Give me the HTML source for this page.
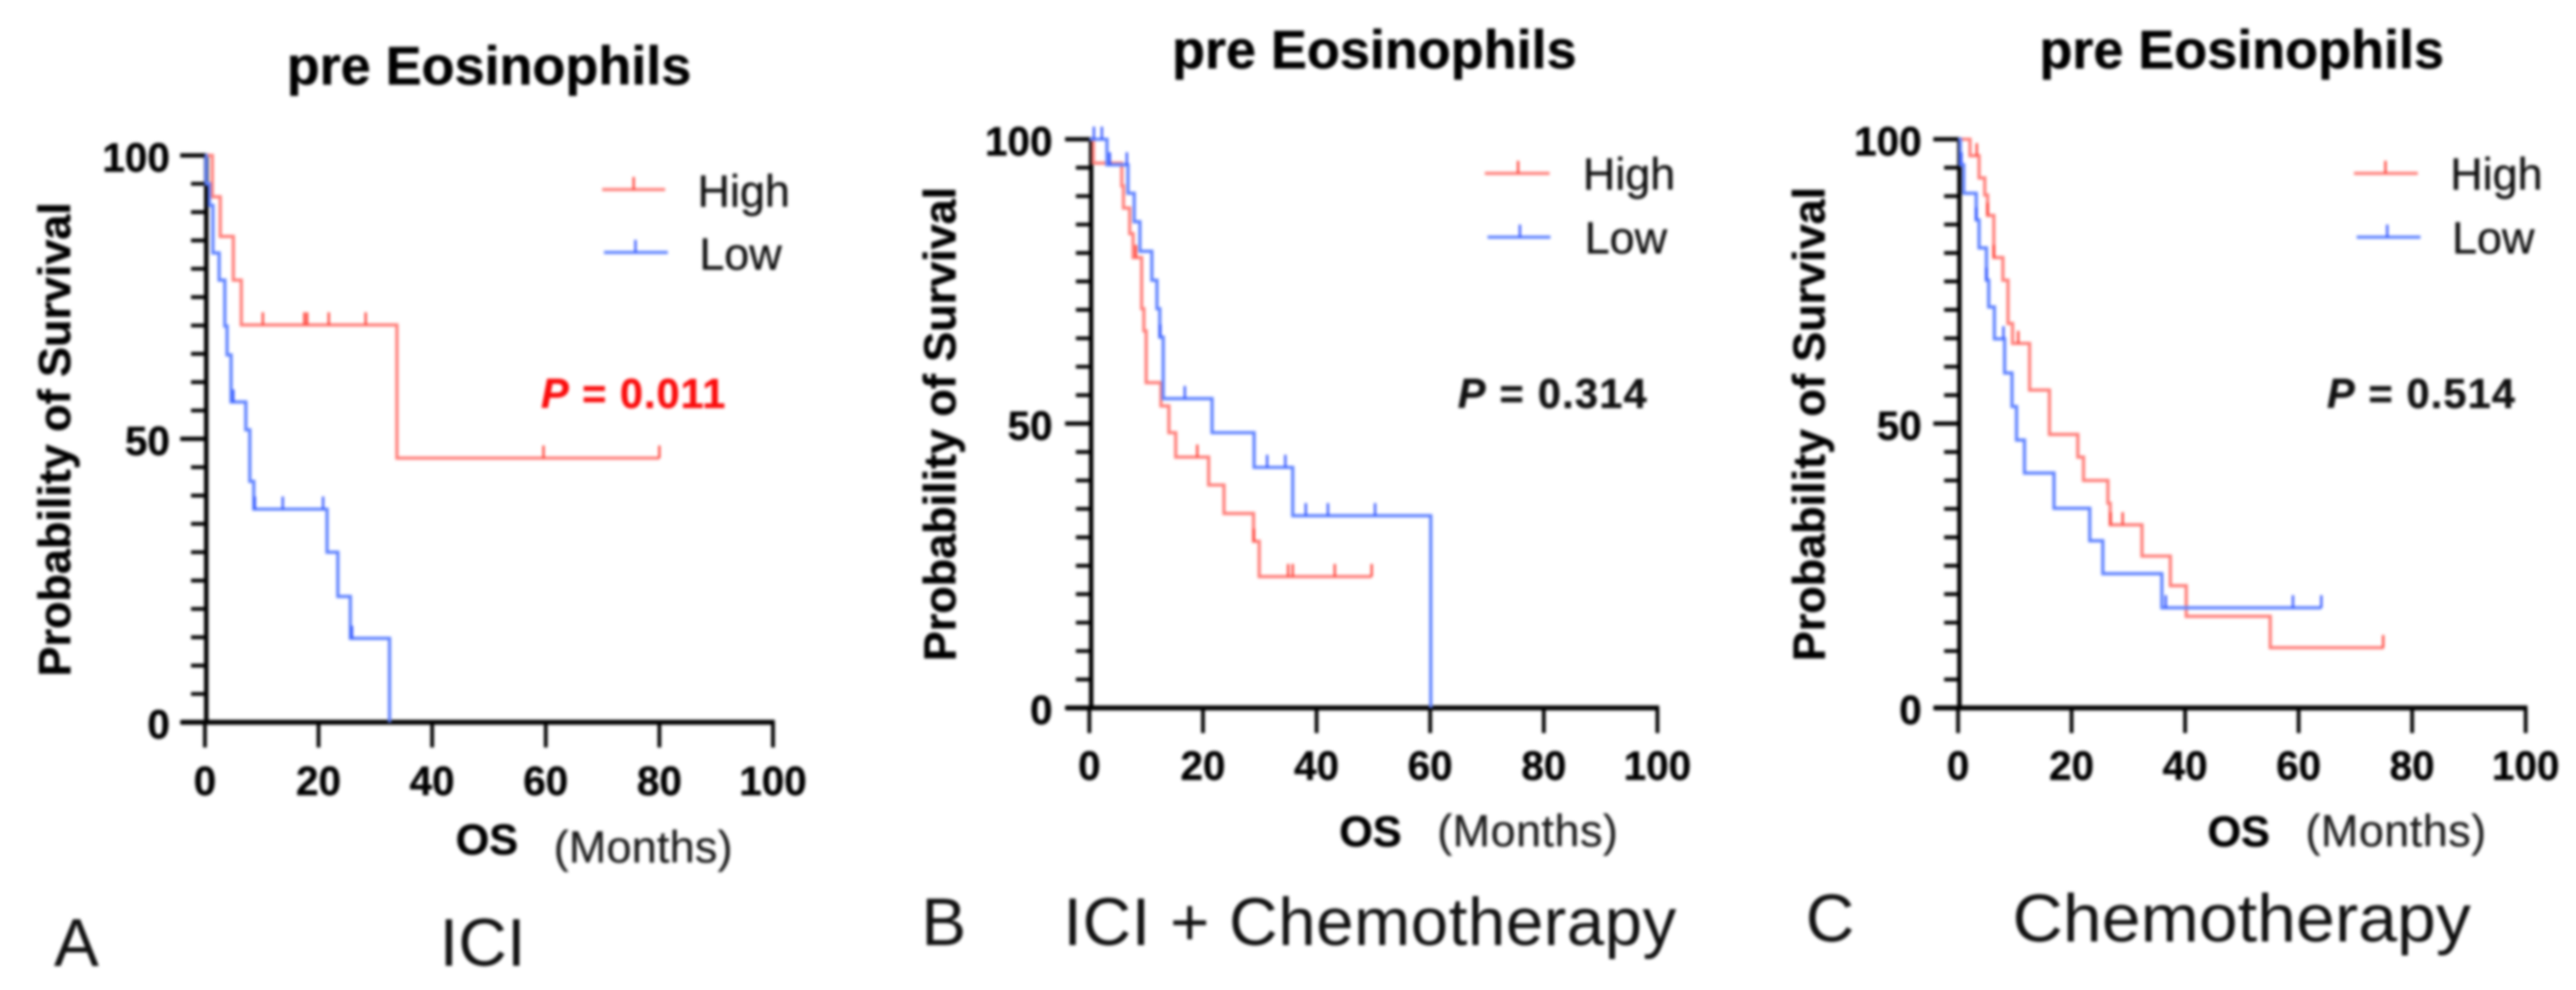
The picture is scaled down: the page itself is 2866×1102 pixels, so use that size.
<!DOCTYPE html>
<html lang="en">
<head>
<meta charset="utf-8">
<title>pre Eosinophils overall survival curves</title>
<style>
html,body{margin:0;padding:0;background:#fff;}
body{width:2866px;height:1102px;overflow:hidden;}
#figure{display:block;width:2866px;height:1102px;filter:blur(1.6px);font-family:"Liberation Sans",Arial,sans-serif;}
.title{font-size:60px;font-weight:bold;fill:#000;stroke:#000;stroke-width:.5px;}
.ytitle{font-size:50px;font-weight:bold;fill:#000;text-anchor:middle;stroke:#000;stroke-width:.5px;}
.legend{font-size:50px;fill:#111;stroke:#111;stroke-width:.4px;}
.pval{font-size:46px;font-weight:bold;stroke-width:.5px;}
.os{font-size:48px;font-weight:bold;fill:#000;stroke:#000;stroke-width:.5px;}
.months{font-size:50px;fill:#1c1c1c;stroke:#1c1c1c;stroke-width:.3px;}
.panel{font-size:75px;fill:#111;}
.tick{font-size:45px;font-weight:bold;fill:#000;stroke:#000;stroke-width:.4px;}
</style>
</head>
<body>
<svg id="figure" xmlns="http://www.w3.org/2000/svg" width="2866" height="1102" viewBox="0 0 2866 1102">
  <rect width="2866" height="1102" fill="#ffffff"/>

  <!-- Panel A text -->
  <g>
    <text class="title" x="319" y="94">pre Eosinophils</text>
    <text class="ytitle" transform="translate(78 489) rotate(-90)">Probability of Survival</text>
    <text class="legend" x="776" y="230">High</text>
    <text class="legend" x="778" y="300">Low</text>
    <text class="pval" x="602" y="454" fill="#fa0d0d" stroke="#fa0d0d" textLength="205" lengthAdjust="spacing"><tspan font-style="italic">P</tspan> = 0.011</text>
    <text class="os" x="507" y="951">OS</text>
    <text class="months" x="616" y="960" textLength="199" lengthAdjust="spacing">(Months)</text>
    <text class="panel" x="60" y="1075">A</text>
    <text class="panel" x="489" y="1075">ICI</text>
  </g>

  <!-- Panel B text -->
  <g>
    <text class="title" x="1304" y="76">pre Eosinophils</text>
    <text class="ytitle" transform="translate(1063 472) rotate(-90)">Probability of Survival</text>
    <text class="legend" x="1761" y="211">High</text>
    <text class="legend" x="1763" y="282">Low</text>
    <text class="pval" x="1622" y="454" fill="#111" stroke="#111" textLength="210" lengthAdjust="spacing"><tspan font-style="italic">P</tspan> = 0.314</text>
    <text class="os" x="1490" y="942">OS</text>
    <text class="months" x="1599" y="942" textLength="201" lengthAdjust="spacing">(Months)</text>
    <text class="panel" x="1025" y="1052">B</text>
    <text class="panel" x="1183" y="1052" textLength="682" lengthAdjust="spacing">ICI + Chemotherapy</text>
  </g>

  <!-- Panel C text -->
  <g>
    <text class="title" x="2269" y="76">pre Eosinophils</text>
    <text class="ytitle" transform="translate(2030 472) rotate(-90)">Probability of Survival</text>
    <text class="legend" x="2726" y="211">High</text>
    <text class="legend" x="2728" y="282">Low</text>
    <text class="pval" x="2589" y="454" fill="#111" stroke="#111" textLength="209" lengthAdjust="spacing"><tspan font-style="italic">P</tspan> = 0.514</text>
    <text class="os" x="2456" y="942">OS</text>
    <text class="months" x="2565" y="942" textLength="201" lengthAdjust="spacing">(Months)</text>
    <text class="panel" x="2009" y="1048">C</text>
    <text class="panel" x="2239" y="1048" textLength="510" lengthAdjust="spacingAndGlyphs">Chemotherapy</text>
  </g>

  <g id="charts"></g>
</svg>
<script>
// Axis labels
const xTickLabels = [0, 20, 40, 60, 80, 100];
const yTickLabels = [0, 50, 100];
const yMinorTickValues = [5, 10, 15, 20, 25, 30, 35, 40, 45, 55, 60, 65, 70, 75, 80, 85, 90, 95];

// Panel A (ICI): event times in months, survival (%) after each event, censor times
const aHighTimes = [1.3, 2.7, 5, 6.4, 33.8];
const aHighSurvival = [92.7, 85.7, 78, 70.1, 46.6];
const aHighEnd = 80;
const aHighCensors = [10.2, 17.5, 18, 21.8, 28.3, 59.6, 80];

const aLowTimes = [0.2, 0.8, 1.4, 2.5, 3.5, 3.9, 4.6, 7.2, 7.9, 8.6, 21.5, 23.4, 25.6, 32.5];
const aLowSurvival = [95, 91.2, 82.8, 78, 69.9, 64.8, 56.5, 51.6, 42.5, 37.6, 30, 22.2, 14.8, 0];
const aLowEnd = 32.5;
const aLowCensors = [5, 8.8, 13.7, 20.8, 25.9];

// Panel B (ICI + Chemotherapy)
const bHighTimes = [0.7, 5.7, 6, 7.1, 7.7, 9.2, 9.6, 10, 12.6, 14, 15.2, 21, 23.7, 28.9, 29.9];
const bHighSurvival = [95.8, 91.8, 87.9, 83.4, 79.2, 70.2, 66.3, 57.2, 53.1, 48.4, 44.1, 39.2, 34.2, 29.3, 23.1];
const bHighEnd = 49.7;
const bHighCensors = [8.2, 19, 29, 35, 35.8, 43.2, 49.7];

const bLowTimes = [3.1, 6.8, 7.9, 8.9, 11, 11.9, 12.4, 13, 21.6, 29, 35.8, 60.1];
const bLowSurvival = [95.5, 90.5, 85.5, 80.3, 75.2, 70.2, 65.2, 54.4, 48.4, 42.3, 33.8, 0];
const bLowEnd = 60.1;
const bLowCensors = [0.8, 2.2, 3.6, 6.6, 12.5, 16.8, 31.3, 34.5, 38.1, 42, 50.3];

// Panel C (Chemotherapy)
const cHighTimes = [2.1, 3.7, 4.7, 5.2, 6.3, 7.9, 8.8, 9.6, 12.6, 16.1, 21.1, 22.1, 26.4, 26.8, 32.4, 37.4, 40.2, 55];
const cHighSurvival = [97.1, 93.2, 90.2, 86.6, 79.2, 75.2, 67.6, 64.1, 55.9, 48.1, 44.1, 40, 36, 32.2, 26.7, 21.5, 16.1, 10.6];
const cHighEnd = 75;
const cHighCensors = [3.3, 5.2, 6.3, 10.6, 26.9, 29, 74.9];

const cLowTimes = [0.4, 1, 3.2, 3.7, 5, 5.4, 6.4, 8.2, 9.5, 10.3, 11.7, 16.9, 23.2, 25.5, 35.9];
const cLowSurvival = [95.5, 90.5, 85.8, 80.9, 75.2, 70.5, 64.9, 58.9, 53, 47.1, 41.3, 35.1, 29.4, 23.6, 17.6];
const cLowEnd = 64;
const cLowCensors = [0.6, 3.2, 5, 8, 36.6, 59, 64];

// Layout of each panel (pixels) -- separate from the data above
const panelLayouts = [
  {id: 'a', x0: 228, x100: 860, axisX: 229.5, y0: 804, y100: 173, yLabelRight: 189, xLabelBase: 885, legendHigh: [670, 740, 211, 705], legendLow: [672, 743, 281, 707],
   high: {t: aHighTimes, s: aHighSurvival, end: aHighEnd, c: aHighCensors},
   low: {t: aLowTimes, s: aLowSurvival, end: aLowEnd, c: aLowCensors}},
  {id: 'b', x0: 1212, x100: 1844, axisX: 1214, y0: 788, y100: 155, yLabelRight: 1171, xLabelBase: 868, legendHigh: [1652, 1724, 193, 1689], legendLow: [1655, 1725, 264, 1691],
   high: {t: bHighTimes, s: bHighSurvival, end: bHighEnd, c: bHighCensors},
   low: {t: bLowTimes, s: bLowSurvival, end: bLowEnd, c: bLowCensors}},
  {id: 'c', x0: 2178.5, x100: 2810, axisX: 2180, y0: 788, y100: 155, yLabelRight: 2138, xLabelBase: 868, legendHigh: [2619, 2690, 193, 2654], legendLow: [2622, 2693, 264, 2656],
   high: {t: cHighTimes, s: cHighSurvival, end: cHighEnd, c: cHighCensors},
   low: {t: cLowTimes, s: cLowSurvival, end: cLowEnd, c: cLowCensors}}
];

const RED_LINE = '#ff7f7a';
const RED_TICK = '#ff3a30';
const BLUE_LINE = '#5f82ff';
const BLUE_TICK = '#2c50ff';
const AXIS = '#000000';

const NS = 'http://www.w3.org/2000/svg';
const root = document.getElementById('charts');

function make(tag, attrs, parent) {
  const node = document.createElementNS(NS, tag);
  for (const key in attrs) node.setAttribute(key, attrs[key]);
  parent.appendChild(node);
  return node;
}

function survivalAt(series, time) {
  let value = 100;
  for (let i = 0; i < series.t.length; i++) {
    if (series.t[i] <= time) value = series.s[i];
  }
  return value;
}

function stepPath(series, xScale, yScale) {
  let d = 'M' + xScale(0) + ' ' + yScale(100);
  for (let i = 0; i < series.t.length; i++) {
    d += 'H' + xScale(series.t[i]) + 'V' + yScale(series.s[i]);
  }
  d += 'H' + xScale(series.end);
  return d;
}

function drawSeries(group, series, xScale, yScale, lineColor, tickColor, label) {
  const curve = make('path', {d: stepPath(series, xScale, yScale), fill: 'none', stroke: lineColor, 'stroke-width': 3.6, 'stroke-linejoin': 'miter'}, group);
  
  
  series.c.forEach(function (time) {
    const yy = yScale(survivalAt(series, time));
    const xx = xScale(time);
    const mark = make('line', {x1: xx, x2: xx, y1: yy, y2: yy - 14, stroke: tickColor, 'stroke-width': 2.4}, group);
    
    
  });
}

function drawLegendMark(group, spec, lineColor, tickColor, label) {
  const stroke = make('line', {x1: spec[0], x2: spec[1], y1: spec[2], y2: spec[2], stroke: lineColor, 'stroke-width': 3.6}, group);
  
  
  const tick = make('line', {x1: spec[3], x2: spec[3], y1: spec[2], y2: spec[2] - 14, stroke: tickColor, 'stroke-width': 2.4}, group);
  
  
}

panelLayouts.forEach(function (p) {
  const xScale = function (t) { return p.x0 + t * (p.x100 - p.x0) / 100; };
  const yScale = function (s) { return p.y0 + s * (p.y100 - p.y0) / 100; };

  const group = make('g', {}, root);
  
  

  const yAxis = make('line', {x1: p.axisX, x2: p.axisX, y1: p.y100 - 2, y2: p.y0, stroke: AXIS, 'stroke-width': 5}, group);
  
  

  const xAxis = make('line', {x1: p.axisX - 28, x2: p.x100 + 2, y1: p.y0, y2: p.y0, stroke: AXIS, 'stroke-width': 5.5}, group);
  
  

  yMinorTickValues.forEach(function (value) {
    const minor = make('line', {x1: p.axisX - 17, x2: p.axisX, y1: yScale(value), y2: yScale(value), stroke: AXIS, 'stroke-width': 4.2}, group);
    
    
  });

  yTickLabels.forEach(function (value) {
    const major = make('line', {x1: p.axisX - 29, x2: p.axisX, y1: yScale(value), y2: yScale(value), stroke: AXIS, 'stroke-width': 4.8}, group);
    
    
    const label = make('text', {x: p.yLabelRight, y: yScale(value) + 18, 'text-anchor': 'end', 'class': 'tick'}, group);
    label.textContent = String(value);
    
    
  });

  xTickLabels.forEach(function (value) {
    const major = make('line', {x1: xScale(value), x2: xScale(value), y1: p.y0, y2: p.y0 + 28, stroke: AXIS, 'stroke-width': 4.2}, group);
    
    
    const label = make('text', {x: xScale(value), y: p.xLabelBase, 'text-anchor': 'middle', 'class': 'tick'}, group);
    label.textContent = String(value);
    
    
  });

  drawSeries(group, p.high, xScale, yScale, RED_LINE, RED_TICK, 'high');
  drawSeries(group, p.low, xScale, yScale, BLUE_LINE, BLUE_TICK, 'low');

  drawLegendMark(group, p.legendHigh, RED_LINE, RED_TICK, 'high');
  drawLegendMark(group, p.legendLow, BLUE_LINE, BLUE_TICK, 'low');
});
</script>
</body>
</html>
